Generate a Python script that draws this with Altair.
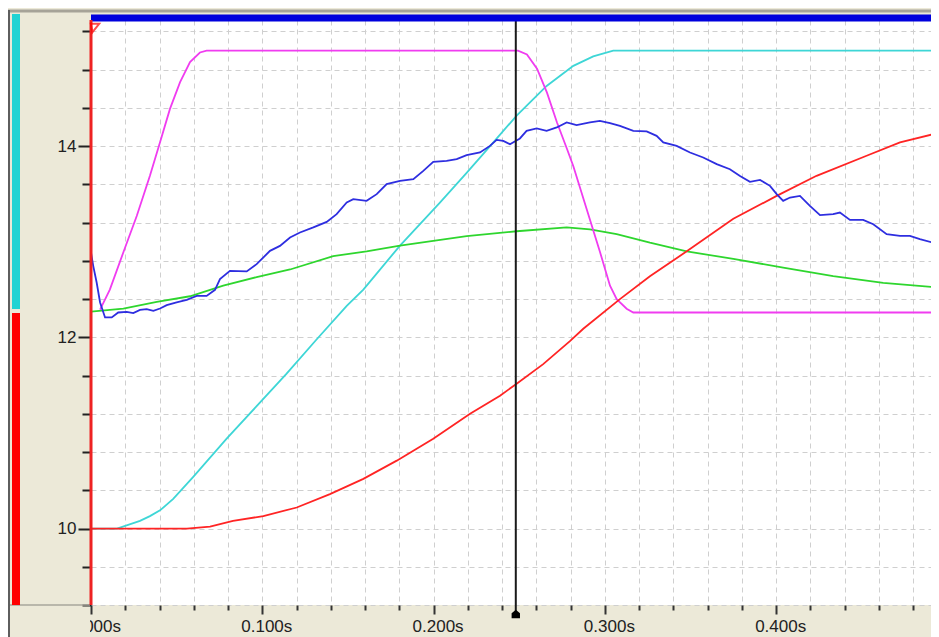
import altair as alt
import pandas as pd

# ---------------- data (time in s, value) ----------------
blue_t = [0.0, 0.0013, 0.0033, 0.0053, 0.0082, 0.0121, 0.0159, 0.0208, 0.0247, 0.0286,
          0.0325, 0.0364, 0.0403, 0.0442, 0.050, 0.0559, 0.0617, 0.0675, 0.0724, 0.0753,
          0.0811, 0.0909, 0.0967, 0.1045, 0.1103, 0.1162, 0.122, 0.1298, 0.1376, 0.1434,
          0.1493, 0.1531, 0.1609, 0.1668, 0.1726, 0.1804, 0.1882, 0.194, 0.1998, 0.2076,
          0.2135, 0.2193, 0.2271, 0.2329, 0.2368, 0.2407, 0.2446, 0.2504, 0.2543, 0.2602,
          0.266, 0.2719, 0.2777, 0.2835, 0.2913, 0.2971, 0.303, 0.3088, 0.3166, 0.3244,
          0.3302, 0.3341, 0.3419, 0.3497, 0.3574, 0.3653, 0.373, 0.3789, 0.3847, 0.3906,
          0.3964, 0.4003, 0.4041, 0.4081, 0.4139, 0.4197, 0.4256, 0.4333, 0.4372, 0.4431,
          0.4508, 0.4567, 0.4645, 0.4723, 0.4781, 0.4839, 0.495]
blue_v = [12.888, 12.748, 12.574, 12.365, 12.208, 12.208, 12.260, 12.267, 12.253, 12.288,
          12.295, 12.277, 12.302, 12.337, 12.365, 12.392, 12.434, 12.434, 12.497, 12.609,
          12.696, 12.690, 12.766, 12.905, 12.957, 13.045, 13.097, 13.150, 13.208, 13.289,
          13.411, 13.446, 13.428, 13.498, 13.603, 13.637, 13.655, 13.742, 13.836, 13.846,
          13.864, 13.906, 13.934, 14.003, 14.066, 14.055, 14.021, 14.081, 14.160, 14.185,
          14.160, 14.196, 14.248, 14.220, 14.248, 14.265, 14.241, 14.212, 14.160, 14.154,
          14.108, 14.039, 14.003, 13.934, 13.882, 13.812, 13.759, 13.689, 13.627, 13.647,
          13.585, 13.498, 13.428, 13.463, 13.480, 13.376, 13.278, 13.289, 13.306, 13.229,
          13.229, 13.184, 13.079, 13.062, 13.062, 13.027, 12.975]

magenta_t = [0.0053, 0.011, 0.0189, 0.0267, 0.0344, 0.0403, 0.0461, 0.052, 0.0578, 0.0636,
             0.0675, 0.2493, 0.2545, 0.2604, 0.2662, 0.272, 0.2779, 0.2816, 0.2894, 0.2972,
             0.303, 0.3069, 0.3127, 0.3166, 0.495]
magenta_v = [12.29, 12.50, 12.89, 13.27, 13.69, 14.04, 14.39, 14.67, 14.88, 14.98,
             15.0, 15.0, 14.96, 14.81, 14.56, 14.25, 13.97, 13.79, 13.34, 12.89,
             12.54, 12.40, 12.30, 12.26, 12.26]

cyan_t = [0.0, 0.0152, 0.0286, 0.0344, 0.0403, 0.048, 0.0597, 0.0792, 0.0967, 0.1142,
          0.1318, 0.1493, 0.159, 0.1804, 0.2037, 0.2193, 0.2349, 0.2485, 0.266, 0.2816,
          0.2932, 0.3049, 0.3205, 0.495]
cyan_v = [10.0, 10.0, 10.08, 10.13, 10.19, 10.31, 10.54, 10.94, 11.28, 11.62,
          11.98, 12.33, 12.50, 12.96, 13.41, 13.72, 14.04, 14.32, 14.63, 14.84,
          14.94, 15.0, 15.0, 15.0]

red_t = [0.0, 0.056, 0.0695, 0.0829, 0.1006, 0.1201, 0.1395, 0.159, 0.1785, 0.1998,
         0.2213, 0.2388, 0.2481, 0.264, 0.2796, 0.2874, 0.3088, 0.3263, 0.3478, 0.375,
         0.4003, 0.4236, 0.4528, 0.4723, 0.495]
red_v = [10.0, 10.0, 10.02, 10.08, 10.13, 10.22, 10.36, 10.52, 10.71, 10.94,
         11.20, 11.39, 11.51, 11.72, 11.96, 12.09, 12.40, 12.64, 12.90, 13.24,
         13.48, 13.69, 13.90, 14.04, 14.14]

green_t = [0.0, 0.0189, 0.0384, 0.0578, 0.0772, 0.0967, 0.1162, 0.1414, 0.1609, 0.1804,
           0.1998, 0.2193, 0.2485, 0.2777, 0.2913, 0.3069, 0.3263, 0.3478, 0.375, 0.4041,
           0.4333, 0.4625, 0.495]
green_v = [12.27, 12.30, 12.37, 12.43, 12.54, 12.63, 12.71, 12.85, 12.90, 12.96,
           13.01, 13.06, 13.11, 13.15, 13.13, 13.08, 12.99, 12.90, 12.82, 12.73,
           12.64, 12.57, 12.52]

cursor_t = [0.248]

x_ticks = [0.0, 0.02, 0.04, 0.06, 0.08, 0.1, 0.12, 0.14, 0.16, 0.18, 0.2, 0.22, 0.24,
           0.26, 0.28, 0.3, 0.32, 0.34, 0.36, 0.38, 0.4, 0.42, 0.44, 0.46, 0.48]
y_ticks = [9.2, 9.6, 10.0, 10.4, 10.8, 11.2, 11.6, 12.0, 12.4, 12.8, 13.2, 13.6,
           14.0, 14.4, 14.8, 15.2]

x_domain = [0.0, 0.4904]
y_domain = [9.2, 15.32]

# ---------------- styling ----------------
W, H = 840, 585
BEIGE = "#ECE9D8"
GRID = "#CFCFCF"
FONT = "Liberation Sans"

xs = alt.Scale(domain=x_domain, nice=False, zero=False)
ys = alt.Scale(domain=y_domain, nice=False, zero=False)

x_major = "abs(datum.value*10 - round(datum.value*10)) < 0.001"
y_major = "abs(datum.value/2 - round(datum.value/2)) < 0.01"

x_axis = alt.Axis(
    values=x_ticks, title=None, domain=False, zindex=0,
    grid=True, gridColor=GRID, gridDash=[5, 4], gridWidth=1,
    ticks=True, tickColor="#333333", tickWidth=2,
    tickSize={"condition": {"test": x_major, "value": 9}, "value": 5},
    labelExpr=x_major + " ? format(datum.value, '.3f') + 's' : ''",
    labelFont=FONT, labelFontSize=17, labelColor="#222222",
    labelPadding=4, labelOffset=4, labelFlush=False, labelOverlap=False,
    labelBound=False,
)
y_axis = alt.Axis(
    values=y_ticks, title=None, domain=False, zindex=0,
    grid=True, gridColor=GRID, gridDash=[5, 4], gridWidth=1,
    ticks=True, tickColor="#222222", tickWidth=2,
    tickSize={"condition": {"test": y_major, "value": 13}, "value": 9},
    labelExpr=y_major + " ? format(datum.value, 'd') : ''",
    labelFont=FONT, labelFontSize=17, labelColor="#222222",
    labelPadding=2, labelFlush=False, labelOverlap=False, labelBound=False,
)


def series(ts, vs, color):
    df = pd.DataFrame({"t": ts, "v": vs})
    return alt.Chart(df).mark_line(color=color, strokeWidth=1.8, clip=True).encode(
        x=alt.X("t:Q", scale=xs, axis=x_axis),
        y=alt.Y("v:Q", scale=ys, axis=y_axis),
    )


one = pd.DataFrame({"k": [0]})

# decorations of the instrument window
frame_top = alt.Chart(one).mark_rule(color="#A6A398", strokeWidth=3).encode(
    x=alt.value(-83), x2=alt.value(W), y=alt.value(-9))
frame_left = alt.Chart(one).mark_rule(color="#5E5E5E", strokeWidth=2).encode(
    x=alt.value(-82), y=alt.value(-10), y2=alt.value(H + 40))
cyan_bar = alt.Chart(one).mark_rect(color="#22D3D3").encode(
    x=alt.value(-79), x2=alt.value(-71), y=alt.value(-6), y2=alt.value(289))
red_bar = alt.Chart(one).mark_rect(color="#FF0000").encode(
    x=alt.value(-79), x2=alt.value(-71), y=alt.value(293), y2=alt.value(H))
cover = alt.Chart(one).mark_rect(color=BEIGE).encode(
    x=alt.value(-81), x2=alt.value(-1), y=alt.value(H + 2), y2=alt.value(H + 40))
panel_bottom = alt.Chart(one).mark_rule(color="#A8A69C", strokeWidth=1.5).encode(
    x=alt.value(-81), x2=alt.value(-1), y=alt.value(H))
top_bar = alt.Chart(one).mark_rule(color="#0000DD", strokeWidth=7).encode(
    x=alt.value(0), x2=alt.value(W), y=alt.value(-2))
red_axis = alt.Chart(one).mark_rule(color="#EE2222", strokeWidth=3).encode(
    x=alt.value(0), y=alt.value(0), y2=alt.value(H))
flag = alt.Chart(one).mark_point(
    shape="M-1,-1 L1,-1 L-0.6,1 Z", filled=False, color="#FF0000", strokeWidth=2, size=70
).encode(x=alt.value(4), y=alt.value(8))

cursor_df = pd.DataFrame({"t": cursor_t})
cursor = alt.Chart(cursor_df).mark_rule(color="#1A1A1A", strokeWidth=2).encode(
    x=alt.X("t:Q", scale=xs, axis=x_axis), y=alt.value(0), y2=alt.value(H + 6))
cursor_mark = alt.Chart(cursor_df).mark_point(
    shape="M-1,-0.2 L0,-1 L1,-0.2 L1,1 L-1,1 Z", filled=True, color="#000000",
    opacity=1, size=70
).encode(x=alt.X("t:Q", scale=xs, axis=x_axis), y=alt.value(H + 9))

chart = alt.layer(
    series(cyan_t, cyan_v, "#3ED6D6"),
    series(green_t, green_v, "#2ED62E"),
    series(magenta_t, magenta_v, "#F03CF0"),
    series(red_t, red_v, "#FF2424"),
    series(blue_t, blue_v, "#2E2EE0"),
    cursor,
    cover, panel_bottom, cyan_bar, red_bar, frame_top, frame_left,
    top_bar, red_axis, flag, cursor_mark,
).properties(
    width=W, height=H,
    padding={"left": 83, "top": 12, "right": 0, "bottom": 32},
    autosize=alt.AutoSizeParams(type="none"),
    background=BEIGE,
).configure_view(fill="white", strokeWidth=0)

chart.save("out.html", embed_options={"renderer": "svg", "actions": False})
